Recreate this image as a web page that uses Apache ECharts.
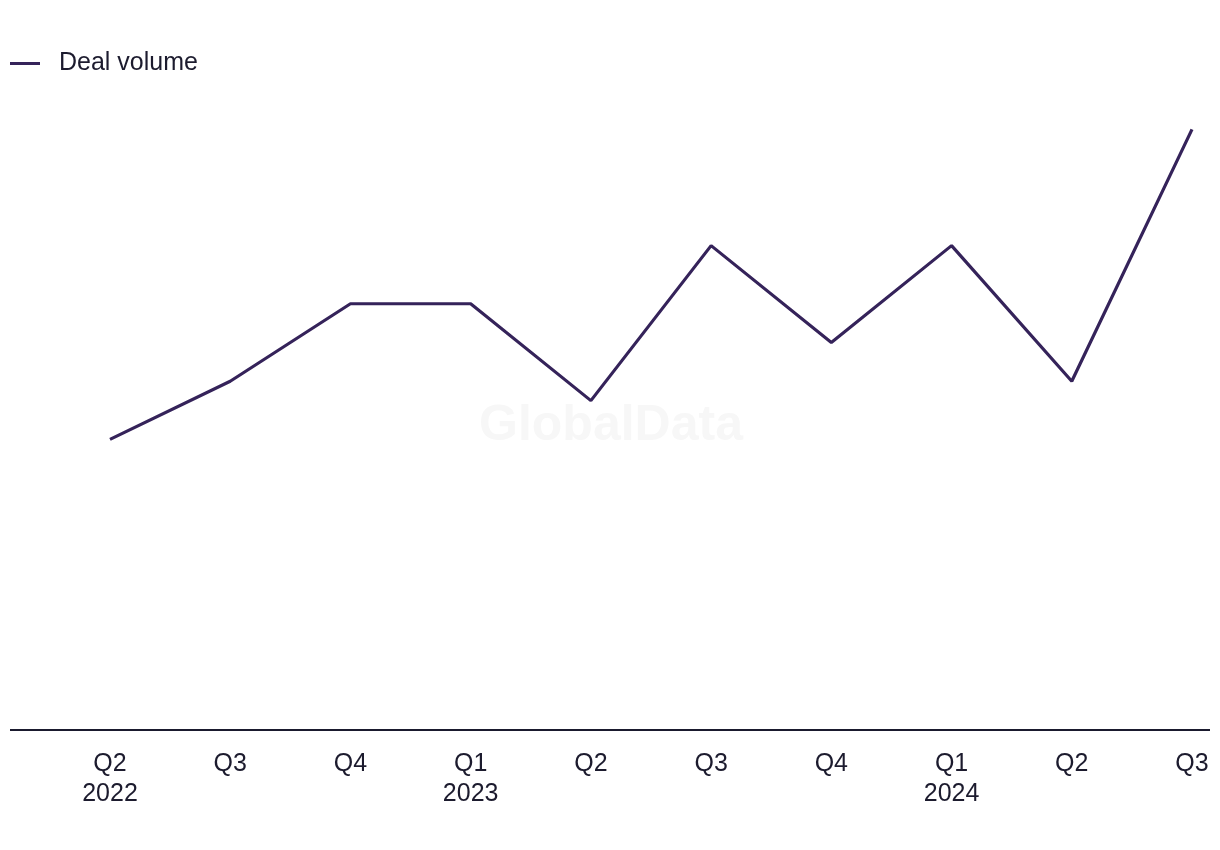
<!DOCTYPE html>
<html><head><meta charset="utf-8">
<style>html,body{margin:0;padding:0;background:#fff}#c{width:1220px;height:850px}</style>
<script src="https://cdn.jsdelivr.net/npm/echarts@6/dist/echarts.min.js"></script>
</head><body><div id="c"></div>
<script>
const categories = ['Q2\n2022','Q3','Q4','Q1\n2023','Q2','Q3','Q4','Q1\n2024','Q2','Q3'];
const dealVolume = [15, 18, 22, 22, 17, 25, 20, 25, 18, 31];
const seriesName = 'Deal volume';

const chart = echarts.init(document.getElementById('c'));
const font = '"Liberation Sans", Arial, sans-serif';
chart.setOption({
  animation: false,
  backgroundColor: '#fff',
  textStyle: {fontFamily: font},
  legend: {
    left: 5, top: 46, itemWidth: 30, itemHeight: 3, itemGap: 10,
    icon: 'rect',
    textStyle: {fontSize: 25, color: '#1c1b2e', fontFamily: font, padding: [0, 0, 0, 14]},
    data: [seriesName]
  },
  graphic: [
    {type: 'text', silent: true, z: -1, x: 611, y: 426,
     style: {text: 'GlobalData', font: 'bold 50px ' + font, fill: '#f7f7f7', align: 'center', verticalAlign: 'middle'}},
    {type: 'line', z: 10, shape: {x1: 10, y1: 730, x2: 1210, y2: 730},
     style: {stroke: '#1a1a2e', lineWidth: 2}}
  ],
  grid: {left: 110, right: 28, top: 110, bottom: 120, containLabel: false},
  xAxis: {
    type: 'category', data: categories, boundaryGap: false,
    axisLine: {show: false}, axisTick: {show: false},
    axisLabel: {fontSize: 25, color: '#1c1b2e', lineHeight: 30, margin: 19, fontFamily: font, interval: 0}
  },
  yAxis: {type: 'value', min: 0, max: 32, show: false, splitLine: {show: false}},
  series: [{
    name: seriesName, type: 'line', data: dealVolume, symbol: 'none',
    lineStyle: {color: '#35235a', width: 3.2}, itemStyle: {color: '#35235a'}
  }]
});
</script></body></html>
